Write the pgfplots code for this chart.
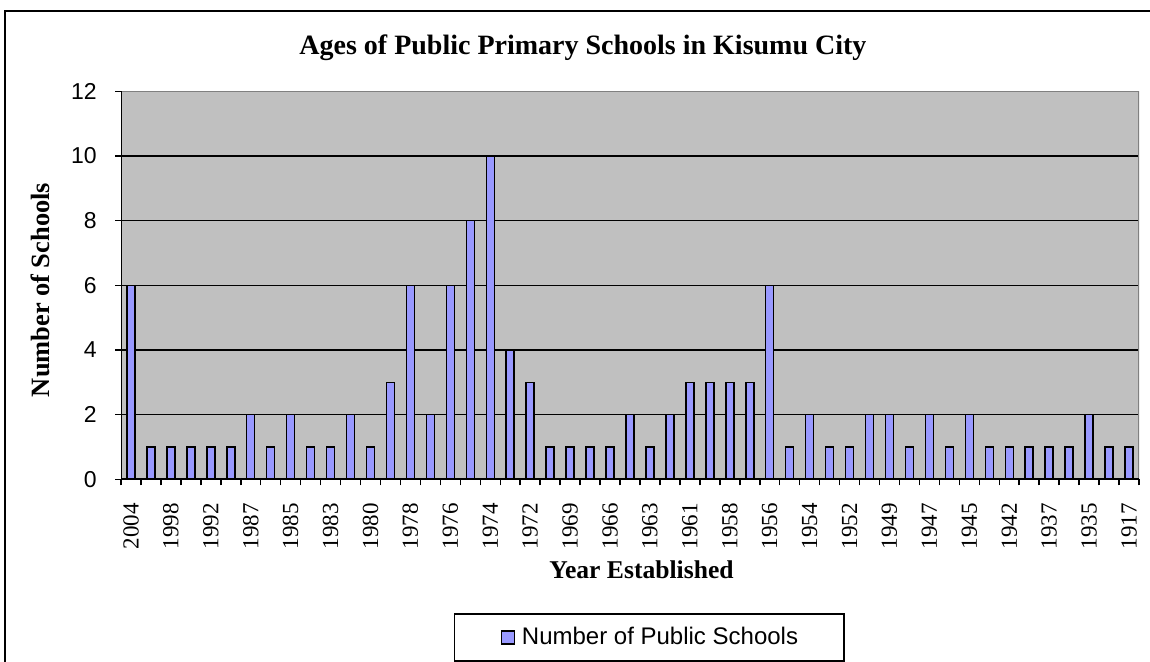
\documentclass[border=0pt]{standalone}
\usepackage{fontspec}
\setmainfont{Liberation Serif}
\setsansfont{Liberation Sans}
\usepackage{pgfplots}
\usepackage{pgfplotstable}
\pgfplotsset{compat=1.18}
\definecolor{barblue}{HTML}{9999FF}
\definecolor{plotgray}{HTML}{C0C0C0}
\definecolor{framegray}{HTML}{808080}

\pgfplotstableread{
idx val
0 6
1 1
2 1
3 1
4 1
5 1
6 2
7 1
8 2
9 1
10 1
11 2
12 1
13 3
14 6
15 2
16 6
17 8
18 10
19 4
20 3
21 1
22 1
23 1
24 1
25 2
26 1
27 2
28 3
29 3
30 3
31 3
32 6
33 1
34 2
35 1
36 1
37 2
38 2
39 1
40 2
41 1
42 2
43 1
44 1
45 1
46 1
47 1
48 2
49 1
50 1
}\schools

\begin{document}
\begin{tikzpicture}
\useasboundingbox (0,0) rectangle (575pt,331pt);
\draw[black, line width=1pt] (2.5pt,-20pt) rectangle (600pt,325.5pt);
\begin{axis}[
  at={(60.5pt,91.35pt)}, anchor=south west,
  scale only axis, width=509pt, height=194pt,
  xmin=-0.5, xmax=50.5, ymin=0, ymax=12,
  axis background/.style={fill=plotgray},
  axis line style={draw=none},
  tick align=outside,
  xtick pos=bottom, ytick pos=left,
  major tick length=3pt,
  tick style={black, line width=0.75pt},
  xtick={-0.5,0.5,...,50.5},
  xticklabels={},
  extra x ticks={0,2,...,50},
  extra x tick labels={2004,1998,1992,1987,1985,1983,1980,1978,1976,1974,1972,1969,1966,1963,1961,1958,1956,1954,1952,1949,1947,1945,1942,1937,1935,1917},
  extra x tick style={major tick length=0pt, xticklabel style={rotate=90, anchor=east, inner sep=0pt, xshift=-11.85pt}},
  xticklabel style={font=\fontsize{11.5}{12}\selectfont},
  ytick={0,2,...,12},
  /pgf/number format/assume math mode=true,
  yticklabel style={font=\sffamily\fontsize{11.5}{12}\selectfont, anchor=east, inner sep=0pt, xshift=-9pt},
  ymajorgrids,
  grid style={black, line width=0.75pt},
  title={Ages of Public Primary Schools in Kisumu City},
  title style={font=\bfseries\fontsize{14}{16}\selectfont, at={(axis description cs:0.4538,1.0626)}, anchor=base, inner sep=0pt},
  xlabel={Year Established},
  xlabel style={font=\bfseries\fontsize{12.8}{14}\selectfont, at={(axis description cs:0.5113,-0.256)}, anchor=base, inner sep=0pt},
  ylabel={Number of Schools},
  ylabel style={font=\bfseries\fontsize{13.2}{14}\selectfont, at={(axis description cs:-0.0707,0.4879)}, anchor=base, rotate=0, inner sep=0pt},
  ybar, bar width=4pt,
  legend style={at={(axis description cs:0.3271,-0.3446)}, anchor=north west,
    draw=black, line width=0.75pt, fill=white,
    font=\sffamily\fontsize{12}{14}\selectfont,
    inner xsep=23pt, inner ysep=6.75pt,
    nodes={inner sep=0pt}, column sep=3.5pt},
  legend image code/.code={\draw[fill=barblue, draw=black, line width=0.6pt] (0pt,-3.25pt) rectangle (6.5pt,3.25pt);},
]
\addplot[fill=barblue, draw=black, line width=0.75pt] table[x=idx, y=val] {\schools};
\addlegendentry{Number of Public Schools}
\draw[framegray, line width=1pt] (rel axis cs:0,1) -- (rel axis cs:1,1) -- (rel axis cs:1,0);
\draw[black, line width=1pt] (rel axis cs:0,1) -- (rel axis cs:0,0) -- (rel axis cs:1,0);
\end{axis}
\end{tikzpicture}
\end{document}
